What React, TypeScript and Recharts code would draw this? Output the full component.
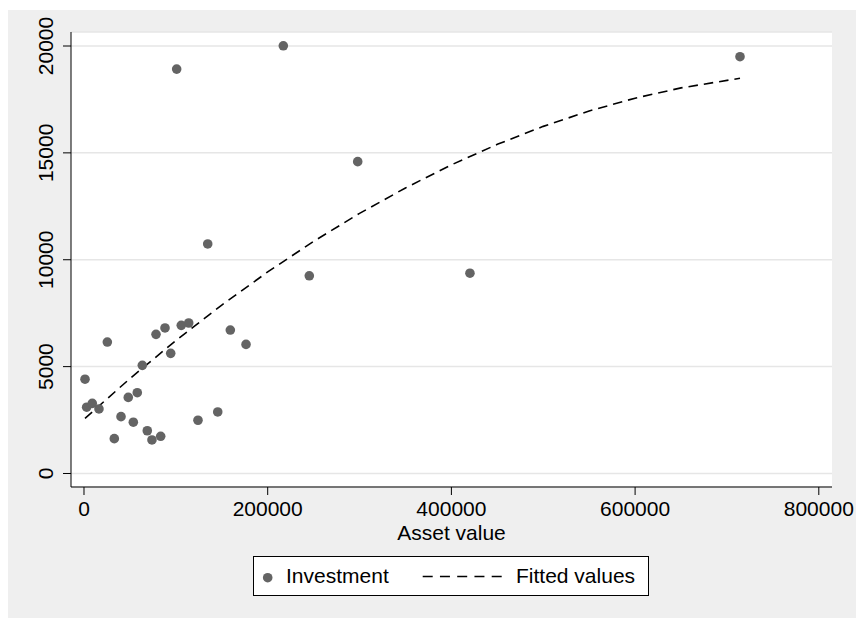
import {
  ComposedChart,
  Scatter,
  Line,
  XAxis,
  YAxis,
  CartesianGrid,
} from "recharts";

// scatter: asset value vs investment
const assetValue = [
  1100, 2900, 9000, 16300, 25400, 33000, 40300, 48200, 53700, 58000,
  63500, 68900, 74000, 78400, 83500, 88200, 94400, 105900, 114000, 124100,
  145600, 159300, 176400, 100900, 217000, 134700, 298000, 245300, 420200, 714200,
];
const investment = [
  4410, 3100, 3280, 3020, 6150, 1630, 2660, 3560, 2400, 3780,
  5060, 2000, 1570, 6510, 1740, 6810, 5620, 6930, 7040, 2490,
  2880, 6710, 6040, 18920, 20010, 10740, 14590, 9250, 9370, 19500,
];

// fitted curve
const fitX = [
  1100, 50000, 100000, 150000, 200000, 250000, 300000, 350000,
  400000, 450000, 500000, 550000, 600000, 650000, 714200,
];
const fitY = [
  2580, 4440, 6220, 7880, 9430, 10860, 12170, 13360,
  14440, 15400, 16240, 16960, 17560, 18040, 18490,
];

const xTicks = [0, 200000, 400000, 600000, 800000];
const yTicks = [0, 5000, 10000, 15000, 20000];

const points = assetValue.map((x, i) => ({ x, y: investment[i] }));
const fitted = fitX.map((x, i) => ({ x, y: fitY[i] }));

const FONT = "'Liberation Sans', Arial, Helvetica, sans-serif";
const DOT = "#646464";
const GRID = "#e6e6e6";
const BG = "#efefef";

const XTick = (props: any) => (
  <text
    x={props.x}
    y={props.y + 21}
    textAnchor="middle"
    fontFamily={FONT}
    fontSize={21}
    fill="#000"
  >
    {props.payload.value}
  </text>
);

const YTick = (props: any) => {
  const x = props.x - 10;
  return (
    <text
      x={x}
      y={props.y}
      transform={`rotate(-90, ${x}, ${props.y})`}
      textAnchor="middle"
      fontFamily={FONT}
      fontSize={21}
      fill="#000"
    >
      {props.payload.value}
    </text>
  );
};

const XTitle = (props: any) => {
  const vb = props.viewBox;
  return (
    <text
      x={vb.x + vb.width / 2}
      y={530}
      textAnchor="middle"
      fontFamily={FONT}
      fontSize={21}
      fill="#000"
    >
      Asset value
    </text>
  );
};

const Dot = (props: any) => (
  <circle cx={props.cx} cy={props.cy} r={4.8} fill={DOT} />
);

function LegendBox() {
  return (
    <svg
      width={396}
      height={40}
      style={{ position: "absolute", left: 245, top: 546 }}
    >
      <rect x={0.5} y={0.5} width={395} height={39} fill="#fff" stroke="#000" />
      <circle cx={14.7} cy={21.7} r={4.8} fill={DOT} />
      <text x={33} y={27.3} fontFamily={FONT} fontSize={21} fill="#000">
        Investment
      </text>
      <line
        x1={169.7}
        y1={20.5}
        x2={248.7}
        y2={20.5}
        stroke="#000"
        strokeWidth={1.6}
        strokeDasharray="10 7.25"
      />
      <text x={263} y={27.3} fontFamily={FONT} fontSize={21} fill="#000">
        Fitted values
      </text>
    </svg>
  );
}

export default function App() {
  return (
    <div
      style={{
        position: "absolute",
        left: 8,
        top: 10,
        width: 848,
        height: 608,
        background: BG,
      }}
    >
      <ComposedChart
        width={848}
        height={608}
        margin={{ top: 22, right: 24, bottom: 71, left: 0 }}
      >
        <CartesianGrid
          vertical={false}
          stroke={GRID}
          strokeWidth={1.5}
          fill="#fff"
          fillOpacity={1}
        />
        <XAxis
          type="number"
          dataKey="x"
          domain={[-14150, 814370]}
          allowDataOverflow
          ticks={xTicks}
          interval={0}
          height={60}
          tickSize={8}
          tickMargin={0}
          tick={<XTick />}
          tickLine={{ stroke: "#000" }}
          axisLine={{ stroke: "#000" }}
          label={<XTitle />}
        />
        <YAxis
          type="number"
          dataKey="y"
          domain={[-632, 20655]}
          allowDataOverflow
          ticks={yTicks}
          interval={0}
          width={63}
          tickSize={8}
          tickMargin={0}
          tick={<YTick />}
          tickLine={{ stroke: "#000" }}
          axisLine={{ stroke: "#000" }}
        />
        <Scatter
          data={points}
          dataKey="y"
          shape={<Dot />}
          isAnimationActive={false}
        />
        <Line
          data={fitted}
          dataKey="y"
          type="linear"
          stroke="#000"
          strokeWidth={1.6}
          strokeDasharray="9.5 6"
          dot={false}
          activeDot={false}
          isAnimationActive={false}
        />
      </ComposedChart>
      <LegendBox />
    </div>
  );
}
